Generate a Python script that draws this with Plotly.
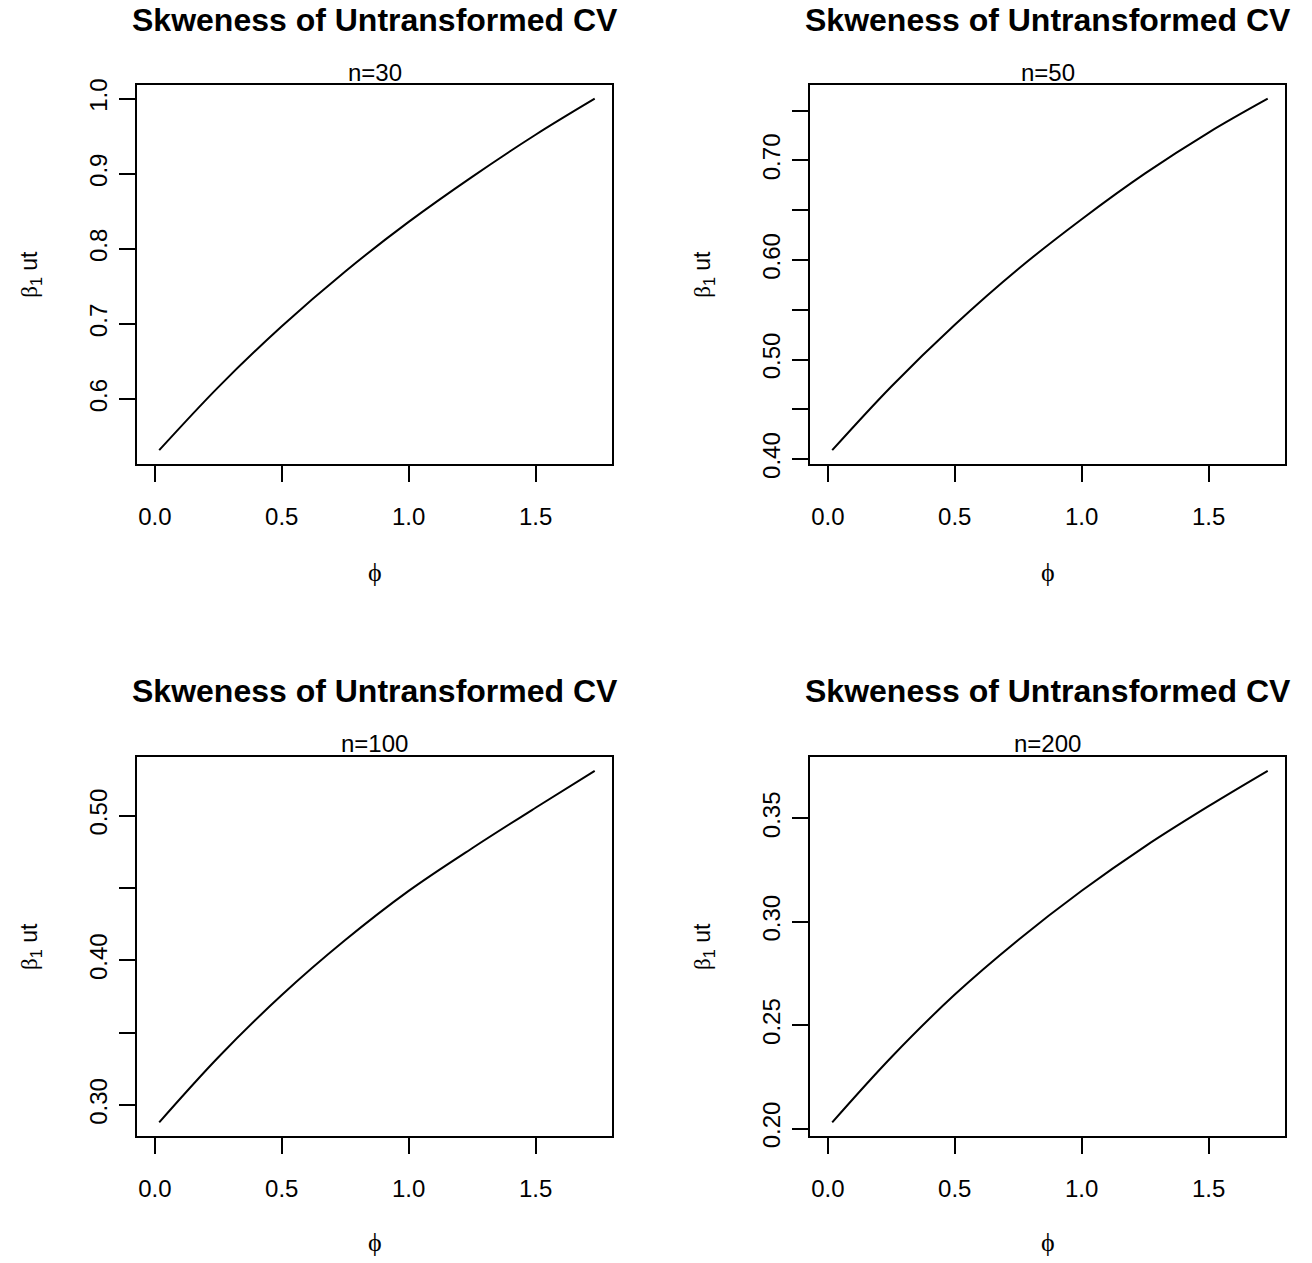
import plotly.graph_objects as go

# ---- data ----
phi = [0.017, 0.25, 0.5, 0.75, 1.0, 1.25, 1.5, 1.733]
skew_n30 = [0.532, 0.616, 0.697, 0.770, 0.836, 0.896, 0.952, 1.000]
skew_n50 = [0.409, 0.473, 0.535, 0.591, 0.641, 0.687, 0.728, 0.762]
skew_n100 = [0.288, 0.333, 0.376, 0.414, 0.448, 0.4775, 0.5055, 0.531]
skew_n200 = [0.203, 0.2345, 0.2648, 0.2912, 0.315, 0.3365, 0.3559, 0.373]
panel_labels = ["n=30", "n=50", "n=100", "n=200"]
x_ticks = [0.0, 0.5, 1.0, 1.5]
x_ticktext = ["0.0", "0.5", "1.0", "1.5"]
y_ticks = [
    [0.6, 0.7, 0.8, 0.9, 1.0],
    [0.40, 0.45, 0.50, 0.55, 0.60, 0.65, 0.70, 0.75],
    [0.30, 0.35, 0.40, 0.45, 0.50],
    [0.20, 0.25, 0.30, 0.35],
]
y_ticktext = [
    ["0.6", "0.7", "0.8", "0.9", "1.0"],
    ["0.40", "", "0.50", "", "0.60", "", "0.70", ""],
    ["0.30", "", "0.40", "", "0.50"],
    ["0.20", "0.25", "0.30", "0.35"],
]
series = [skew_n30, skew_n50, skew_n100, skew_n200]
main_title = "<b>Skweness of Untransformed CV</b>"
x_title = "ϕ"
y_title = "<span style=\"font-family:'Liberation Serif'\">β</span><sub>1</sub> ut"
x_data_lim = (0.0, 1.733)

# ---- layout geometry (pixels) ----
W, H = 1312, 1263
box_left = [137.3, 810.3]
box_w = 475
box_top = [80, 763.5]
box_h = 386
title_y = [14, 696.5]
sub_y = [67.7, 750.3]
xlab_y = [575.6, 1257]
FONT = "Liberation Sans, Arial, sans-serif"


def pad(lo, hi):
    d = (hi - lo) * 0.04
    return [lo - d, hi + d]


fig = go.Figure()
annotations = []
for i, ys in enumerate(series):
    r, c = divmod(i, 2)
    xa = "x" if i == 0 else f"x{i+1}"
    ya = "y" if i == 0 else f"y{i+1}"
    fig.add_trace(go.Scatter(x=phi, y=ys, mode="lines", xaxis=xa, yaxis=ya,
                             line=dict(color="black", width=2, shape="spline"),
                             showlegend=False, hoverinfo="skip"))
    x0 = box_left[c] / W
    x1 = (box_left[c] + box_w) / W
    y1 = 1 - box_top[r] / H
    y0 = 1 - (box_top[r] + box_h) / H
    common = dict(showline=True, mirror=True, linecolor="black", linewidth=2,
                  ticks="outside", ticklen=16, tickwidth=2, tickcolor="black",
                  showgrid=False, zeroline=False,
                  tickfont=dict(family=FONT, size=24, color="black"))
    fig.layout[("xaxis" if i == 0 else f"xaxis{i+1}")] = dict(
        domain=[x0, x1], anchor=ya, range=pad(*x_data_lim),
        tickvals=x_ticks, ticktext=x_ticktext, ticklabelstandoff=14, **common)
    fig.layout[("yaxis" if i == 0 else f"yaxis{i+1}")] = dict(
        domain=[y0, y1], anchor=xa, range=pad(min(ys), max(ys)),
        tickvals=y_ticks[i], ticktext=y_ticktext[i], tickangle=-90,
        ticklabelstandoff=3, **common)
    cx = (box_left[c] + box_w / 2) / W
    annotations.append(dict(text=main_title, x=cx, y=1 - title_y[r] / H,
                            xref="paper", yref="paper", showarrow=False,
                            xanchor="center", yanchor="middle",
                            font=dict(family=FONT, size=32, color="black")))
    annotations.append(dict(text=panel_labels[i], x=cx, y=1 - sub_y[r] / H,
                            xref="paper", yref="paper", showarrow=False,
                            xanchor="center", yanchor="middle",
                            font=dict(family=FONT, size=24, color="black")))
    annotations.append(dict(text=x_title, x=cx, y=1 - xlab_y[r] / H,
                            xref="paper", yref="paper", showarrow=False,
                            xanchor="center", yanchor="middle",
                            font=dict(family="Liberation Serif, DejaVu Serif, serif", size=26, color="black")))
    annotations.append(dict(text=y_title, x=(box_left[c] - 107) / W,
                            y=1 - (box_top[r] + box_h / 2) / H,
                            xref="paper", yref="paper", showarrow=False, textangle=-90,
                            xanchor="center", yanchor="middle",
                            font=dict(family=FONT, size=23, color="black")))

fig.update_layout(width=W, height=H, margin=dict(l=0, r=0, t=0, b=0),
                  paper_bgcolor="white", plot_bgcolor="white",
                  annotations=annotations)
fig.write_html("out.html", config={"displayModeBar": False},
               post_script="document.body.style.margin='0';")
